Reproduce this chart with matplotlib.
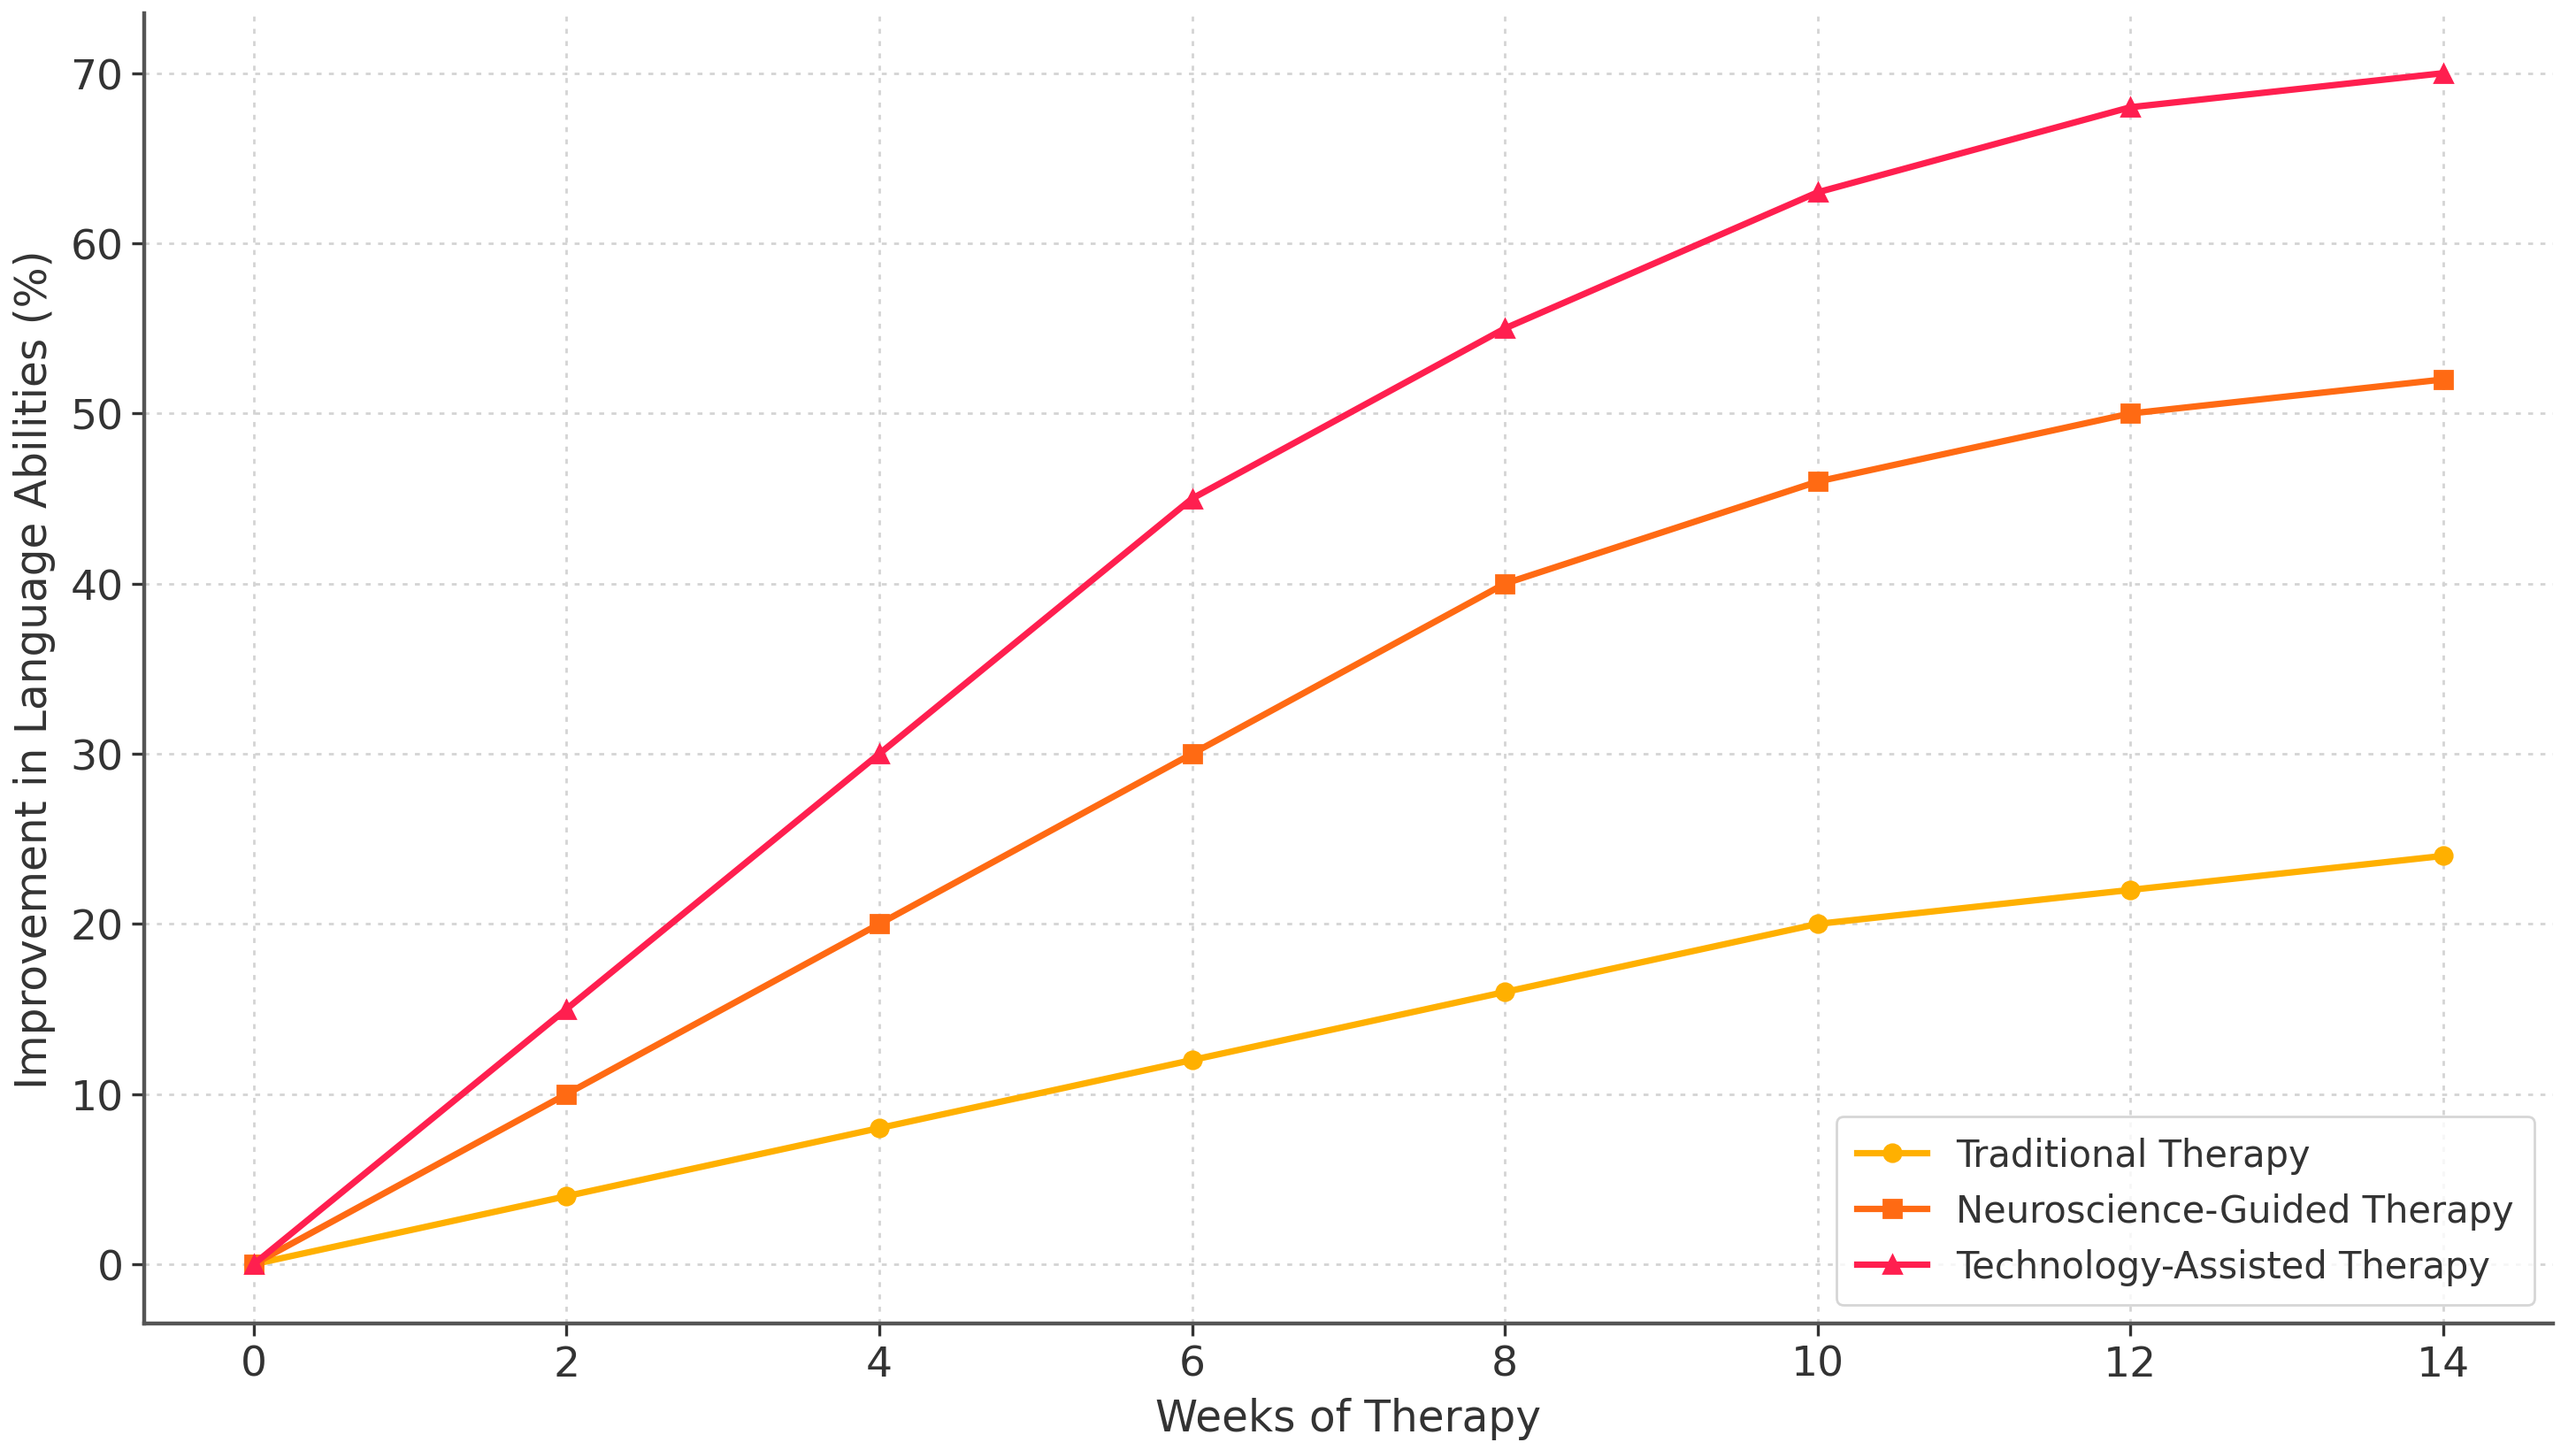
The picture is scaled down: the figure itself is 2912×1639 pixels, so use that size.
import matplotlib.pyplot as plt

weeks = [0, 2, 4, 6, 8, 10, 12, 14]
traditional = [0, 4, 8, 12, 16, 20, 22, 24]
neuro_guided = [0, 10, 20, 30, 40, 46, 50, 52]
tech_assisted = [0, 15, 30, 45, 55, 63, 68, 70]

series_names = ["Traditional Therapy", "Neuroscience-Guided Therapy", "Technology-Assisted Therapy"]
series_colors = ["#FFB000", "#FF6A13", "#FF1F4F"]
series_markers = ["o", "s", "^"]

fig = plt.figure(figsize=(14.56, 8.2), dpi=200)
ax = fig.add_axes([0.056, 0.087, 0.935, 0.903])

for vals, name, col, mk in zip([traditional, neuro_guided, tech_assisted],
                               series_names, series_colors, series_markers):
    ax.plot(weeks, vals, color=col, marker=mk, lw=2.6, ms=7, label=name)

ax.set_xticks(weeks)
ax.set_yticks(range(0, 71, 10))
ax.tick_params(labelsize=17, colors="#333333", width=1.2, length=5)
ax.set_xlabel("Weeks of Therapy", fontsize=17.5, color="#333333", labelpad=5)
ax.set_ylabel("Improvement in Language Abilities (%)", fontsize=17.5, color="#333333", labelpad=6)

ax.grid(True, linestyle=(0, (2, 3)), color="#d4d4d4", lw=1.0)
for s in ["top", "right"]:
    ax.spines[s].set_visible(False)
for s in ["left", "bottom"]:
    ax.spines[s].set_color("#555555")
    ax.spines[s].set_linewidth(1.6)

leg = ax.legend(loc="lower right", fontsize=15, frameon=True, borderpad=0.55,
                handlelength=1.9, labelspacing=0.5)
leg.get_frame().set_edgecolor("#cccccc")
for t in leg.get_texts():
    t.set_color("#333333")

fig.savefig("out.png", dpi=200)
